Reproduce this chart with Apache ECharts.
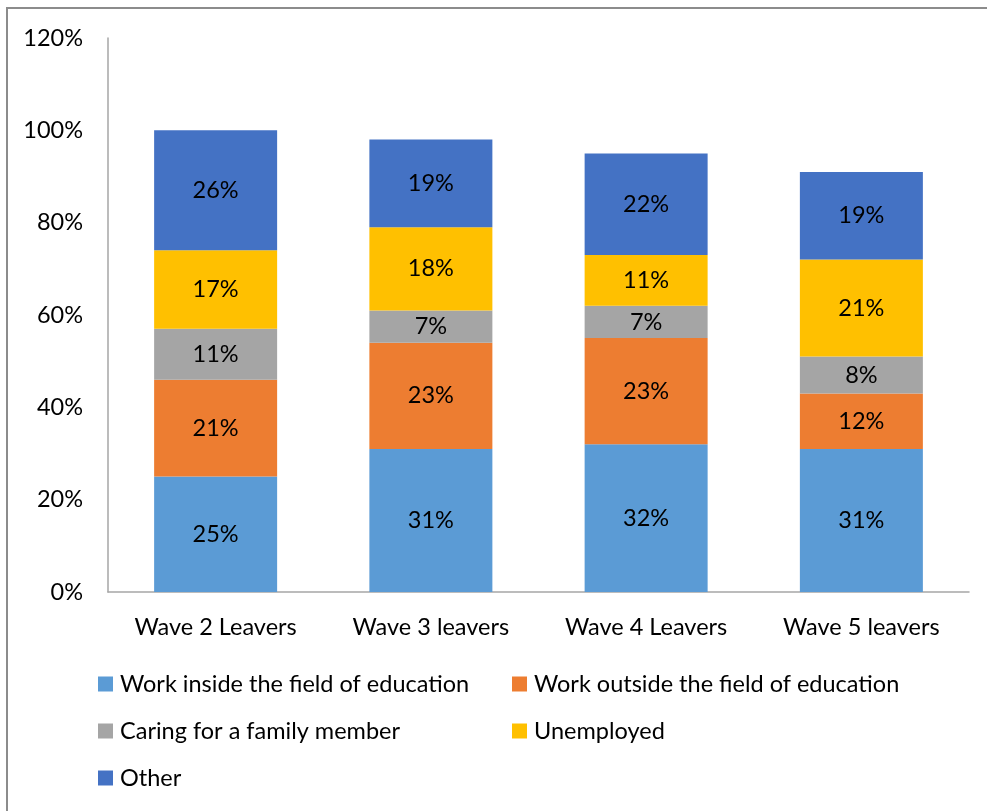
<!DOCTYPE html>
<html>
<head>
<meta charset="utf-8">
<script src="https://cdn.jsdelivr.net/npm/echarts@6/dist/echarts.min.js"></script>
<style>
  html, body { margin: 0; padding: 0; background: #fff; }
  #chart { width: 987px; height: 811px; }
</style>
</head>
<body>
<div id="chart"></div>
<script>
// Destinations of leavers, by survey wave (percent of leavers)
const categories = ['Wave 2 Leavers', 'Wave 3 leavers', 'Wave 4 Leavers', 'Wave 5 leavers'];
const workInside = [25, 31, 32, 31];
const workOutside = [21, 23, 23, 12];
const caring = [11, 7, 7, 8];
const unemployed = [17, 18, 11, 21];
const other = [26, 19, 22, 19];
const yTicks = [0, 20, 40, 60, 80, 100, 120];

const seriesDefs = [
  { name: 'Work inside the field of education', data: workInside, color: '#5b9bd5' },
  { name: 'Work outside the field of education', data: workOutside, color: '#ed7d31' },
  { name: 'Caring for a family member', data: caring, color: '#a5a5a5' },
  { name: 'Unemployed', data: unemployed, color: '#ffc000' },
  { name: 'Other', data: other, color: '#4472c4' }
];

const FONT = 'Lato';
const FS = 23.5;
const legendPos = [
  { left: 98, top: 672 },
  { left: 512, top: 672 },
  { left: 98, top: 719 },
  { left: 512, top: 719 },
  { left: 98, top: 766 }
];

const chart = echarts.init(document.getElementById('chart'), null, { renderer: 'canvas' });
chart.setOption({
  animation: false,
  backgroundColor: '#ffffff',
  textStyle: { fontFamily: FONT },
  graphic: [{
    type: 'rect',
    shape: { x: 7, y: 8, width: 1100, height: 1000 },
    style: { fill: 'none', stroke: '#8c8c8c', lineWidth: 2 },
    silent: true
  }],
  grid: { left: 108, right: 18, top: 38, bottom: 219, containLabel: false },
  legend: seriesDefs.map((s, i) => ({
    data: [s.name],
    left: legendPos[i].left,
    top: legendPos[i].top,
    orient: 'horizontal',
    icon: 'rect',
    itemWidth: 15,
    itemHeight: 15,
    itemGap: 0,
    padding: 0,
    selectedMode: false,
    textStyle: { fontFamily: FONT, fontSize: FS, color: '#000', padding: [0, 0, 0, 2] }
  })),
  xAxis: {
    type: 'category',
    data: categories,
    axisLine: { show: true, lineStyle: { color: '#a6a6a6', width: 1.5 } },
    axisTick: { show: false },
    axisLabel: { fontFamily: FONT, fontSize: FS, color: '#000', margin: 23 }
  },
  yAxis: {
    type: 'value',
    min: yTicks[0],
    max: yTicks[yTicks.length - 1],
    interval: 20,
    splitLine: { show: false },
    axisLine: { show: true, lineStyle: { color: '#a6a6a6', width: 1.5 } },
    axisTick: { show: false },
    axisLabel: { fontFamily: FONT, fontSize: FS, color: '#000', margin: 25, formatter: '{value}%' }
  },
  series: seriesDefs.map(s => ({
    name: s.name,
    type: 'bar',
    stack: 'total',
    barWidth: 123,
    data: s.data,
    itemStyle: { color: s.color },
    label: {
      show: true,
      position: 'inside',
      fontFamily: FONT,
      fontSize: FS,
      color: '#000',
      formatter: p => p.value + '%'
    }
  }))
});
</script>
</body>
</html>
